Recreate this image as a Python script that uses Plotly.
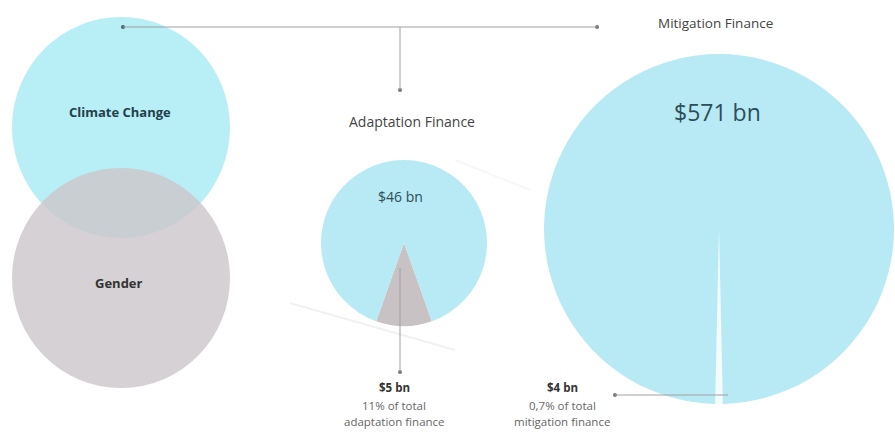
import plotly.graph_objects as go

# ---- data ----
venn_labels = ["Climate Change", "Gender"]
adapt_labels = ["Gender-relevant", "Other adaptation"]
adapt_values = [5, 41]          # $ bn
adapt_total = "$46 bn"
mitig_labels = ["Gender-relevant", "Other mitigation"]
mitig_values = [4, 567]         # $ bn
mitig_total = "$571 bn"
adapt_note = ["$5 bn", "11% of total", "adaptation finance"]
mitig_note = ["$4 bn", "0,7% of total", "mitigation finance"]

W, H = 895, 439
CYAN = "#b8eef5"
BLUE = "#b7eaf4"
GREY = "#cdc7ca"
WEDGE = "#c8c2c5"
LINE = "#a0a0a0"
TEAL = "#23404a"
FONT = "Open Sans"

fig = go.Figure()

# Venn circles
fig.add_shape(type="circle", x0=12, x1=230, y0=17, y1=238, fillcolor=CYAN,
              line=dict(width=0), layer="below")
fig.add_shape(type="circle", x0=12, x1=230, y0=168, y1=388, fillcolor=GREY,
              opacity=0.82, line=dict(width=0), layer="below")

# faint shadow lines
fig.add_shape(type="line", x0=290, y0=303, x1=455, y1=350,
              line=dict(color="#f1f1f1", width=2), layer="below")
fig.add_shape(type="line", x0=455, y0=160, x1=530, y1=190,
              line=dict(color="#f7f7f7", width=2), layer="below")

# pies
adapt_rot = 180 - adapt_values[0] / sum(adapt_values) * 180
fig.add_trace(go.Pie(labels=adapt_labels, values=adapt_values, sort=False,
                     direction="clockwise", rotation=adapt_rot,
                     marker=dict(colors=[WEDGE, BLUE], line=dict(width=0)),
                     textinfo="none", hoverinfo="label+value", showlegend=False,
                     domain=dict(x=[321 / W, 487 / W], y=[1 - 326 / H, 1 - 160 / H])))
mitig_rot = 180 - mitig_values[0] / sum(mitig_values) * 180
fig.add_trace(go.Pie(labels=mitig_labels, values=mitig_values, sort=False,
                     direction="clockwise", rotation=mitig_rot,
                     marker=dict(colors=["#f4fbfc", BLUE], line=dict(width=0)),
                     textinfo="none", hoverinfo="label+value", showlegend=False,
                     domain=dict(x=[544 / W, 894 / W], y=[1 - 406 / H, 1 - 52 / H])))

# connector lines
def seg(x0, y0, x1, y1):
    fig.add_shape(type="line", x0=x0, y0=y0, x1=x1, y1=y1,
                  line=dict(color=LINE, width=1))

seg(123, 27, 597, 27)
seg(400, 27, 400, 90)
seg(400, 268, 400, 372)
seg(615, 395, 728, 395)

fig.add_trace(go.Scatter(x=[123, 597, 400, 400, 615], y=[27, 27, 90, 372, 395],
                         mode="markers", hoverinfo="skip", showlegend=False,
                         marker=dict(size=4, color=["#3d6470", "#777", "#777", "#777", "#777"])))

def txt(x, y, s, size, color, bold=False):
    fig.add_annotation(x=x, y=y, text=f"<b>{s}</b>" if bold else s, showarrow=False,
                       font=dict(family=FONT, size=size, color=color),
                       xanchor="center", yanchor="middle")

txt(120, 112, venn_labels[0], 13, TEAL, True)
txt(119, 283, venn_labels[1], 13, "#333", True)
txt(412, 121, "Adaptation Finance", 14, "#444")
txt(715, 23, "Mitigation Finance", 13.5, "#444")
txt(400, 196, adapt_total, 14, "#2c4d58")
txt(717, 112, mitig_total, 23, "#2c4d58")

for i, (s, yy) in enumerate(zip(adapt_note, [387, 405, 421])):
    txt(394, yy, s, 11.5, "#333" if i == 0 else "#666", i == 0)
for i, (s, yy) in enumerate(zip(mitig_note, [387, 405, 421])):
    txt(562, yy, s, 11.5, "#333" if i == 0 else "#666", i == 0)

fig.update_layout(
    width=W, height=H, margin=dict(l=0, r=0, t=0, b=0),
    paper_bgcolor="white", plot_bgcolor="rgba(0,0,0,0)",
    xaxis=dict(range=[0, W], visible=False, fixedrange=True),
    yaxis=dict(range=[H, 0], visible=False, fixedrange=True),
    showlegend=False,
)

fig.write_html("out.html")
